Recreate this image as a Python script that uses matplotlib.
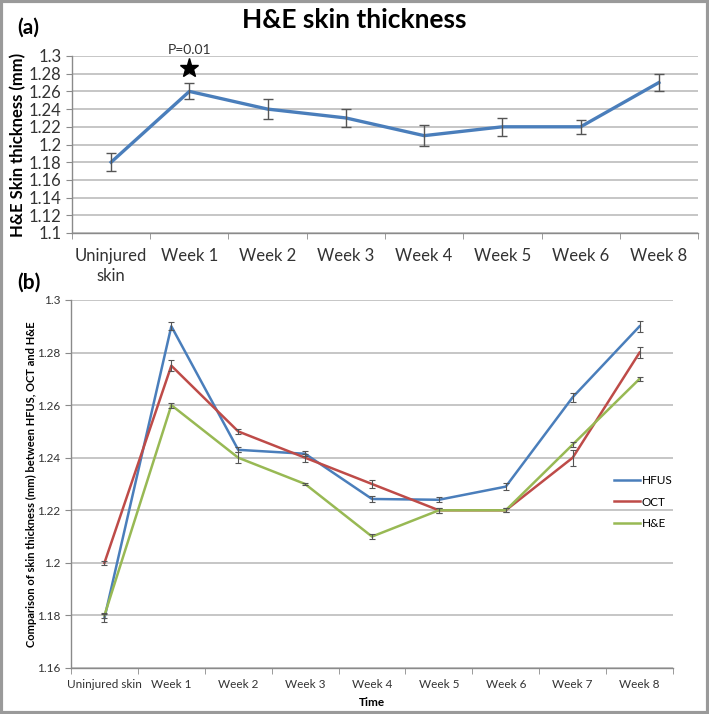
import matplotlib.pyplot as plt
from matplotlib.patches import Rectangle
import numpy as np

plt.rcParams['font.family'] = ['Lato', 'DejaVu Sans']

# panel (a) data
cats_a = ["Uninjured\nskin", "Week 1", "Week 2", "Week 3", "Week 4", "Week 5", "Week 6", "Week 8"]
he_a = [1.18, 1.26, 1.24, 1.23, 1.21, 1.22, 1.22, 1.27]
he_a_err = [0.010, 0.009, 0.011, 0.010, 0.012, 0.010, 0.008, 0.010]

# panel (b) data
cats_b = ["Uninjured skin", "Week 1", "Week 2", "Week 3", "Week 4", "Week 5", "Week 6", "Week 7", "Week 8"]
hfus = [1.179, 1.290, 1.243, 1.2415, 1.2243, 1.224, 1.229, 1.263, 1.290]
hfus_err = [0.0015, 0.0015, 0.001, 0.001, 0.001, 0.001, 0.0012, 0.0018, 0.002]
oct_ = [1.200, 1.275, 1.250, 1.240, 1.230, 1.220, 1.220, 1.240, 1.280]
oct_err = [0.0008, 0.002, 0.001, 0.0015, 0.0015, 0.001, 0.0008, 0.003, 0.002]
he_b = [1.180, 1.260, 1.240, 1.230, 1.210, 1.220, 1.220, 1.245, 1.270]
he_b_err = [0.001, 0.001, 0.002, 0.0003, 0.0008, 0.001, 0.0008, 0.001, 0.0008]

BLUE = "#4a7ebb"
RED = "#be4b48"
GREEN = "#98b954"
GRID = "#bcbcbc"
AXC = "#8a8a8a"
ERRC = "#555555"

fig = plt.figure(figsize=(7.09, 7.14), dpi=100)


def style_axes(ax, n, tick_size):
    ax.set_xlim(-0.5, n - 0.5)
    ax.set_xticks(np.arange(n))
    ax.set_xticks(np.arange(n + 1) - 0.5, minor=True)
    ax.tick_params(axis='x', which='major', length=0, labelsize=tick_size, colors='#333333', pad=8)
    ax.tick_params(axis='x', which='minor', length=4, color=AXC, direction='out')
    ax.tick_params(axis='y', length=4, color=AXC, labelsize=tick_size, colors='#333333')
    for s in ['top', 'right']:
        ax.spines[s].set_visible(False)
    for s in ['left', 'bottom']:
        ax.spines[s].set_color(AXC)
        ax.spines[s].set_linewidth(1)
    ax.yaxis.grid(True, color=GRID, lw=1.2)
    ax.set_axisbelow(True)


# ---- (a)
ax1 = fig.add_axes([72 / 709, 1 - 233 / 714, 626 / 709, 177 / 714])
xa = np.arange(len(cats_a))
ax1.plot(xa, he_a, color=BLUE, lw=2.4, zorder=3)
ax1.errorbar(xa, he_a, yerr=he_a_err, fmt='none', ecolor=ERRC, elinewidth=1, capsize=3.5, capthick=1, zorder=4)
ax1.set_ylim(1.1, 1.3)
ax1.set_yticks(np.arange(1.1, 1.3001, 0.02))
ax1.set_yticklabels(["1.1", "1.12", "1.14", "1.16", "1.18", "1.2", "1.22", "1.24", "1.26", "1.28", "1.3"])
style_axes(ax1, len(cats_a), 12)
ax1.set_xticklabels(cats_a, linespacing=1.25)
ax1.tick_params(axis='x', which='major', pad=11)
ax1.set_ylabel("H&E Skin thickness (mm)", fontsize=12, fontweight='bold', labelpad=2)
ax1.plot([1], [1.2864], marker='*', color='black', markersize=14, clip_on=False, zorder=5)
ax1.text(1, 1.3, "P=0.01", ha='center', va='bottom', fontsize=10, color='#333333')

fig.text(0.5, 1 - 20 / 714, "H&E skin thickness", ha='center', va='center', fontsize=19, fontweight='bold')
fig.text(17 / 709, 1 - 28 / 714, "(a)", ha='left', va='center', fontsize=15, fontweight='bold')
fig.text(17 / 709, 1 - 283 / 714, "(b)", ha='left', va='center', fontsize=15, fontweight='bold')

# ---- (b)
ax2 = fig.add_axes([71 / 709, 1 - 668 / 714, 602 / 709, 368 / 714])
xb = np.arange(len(cats_b))
for vals, errs, col, name in [(hfus, hfus_err, BLUE, "HFUS"), (oct_, oct_err, RED, "OCT"), (he_b, he_b_err, GREEN, "H&E")]:
    ax2.plot(xb, vals, color=col, lw=1.8, label=name, zorder=3)
    ax2.errorbar(xb, vals, yerr=errs, fmt='none', ecolor=ERRC, elinewidth=0.8, capsize=2, capthick=0.8, zorder=4)
ax2.set_ylim(1.16, 1.3)
ax2.set_yticks(np.arange(1.16, 1.3001, 0.02))
ax2.set_yticklabels(["1.16", "1.18", "1.2", "1.22", "1.24", "1.26", "1.28", "1.3"])
style_axes(ax2, len(cats_b), 8.5)
ax2.set_xticklabels(cats_b)
ax2.tick_params(axis='x', which='major', pad=8)
ax2.set_xlabel("Time", fontsize=8.5, fontweight='bold', labelpad=5)
ax2.set_ylabel("Comparison of skin thickness (mm) between HFUS, OCT and H&E", fontsize=8, fontweight='bold', labelpad=0)
ax2.legend(loc='center left', bbox_to_anchor=(603 / 709, 1 - 502 / 714), bbox_transform=fig.transFigure,
           frameon=False, fontsize=8.5, handlelength=2.2, handletextpad=0.2, labelspacing=0.9)

# outer frame
fig.patches.append(Rectangle((0.002, 0.002), 0.996, 0.996, transform=fig.transFigure, fill=False,
                             edgecolor='#9a9a9a', lw=3))

fig.savefig("out.png", dpi=100)
